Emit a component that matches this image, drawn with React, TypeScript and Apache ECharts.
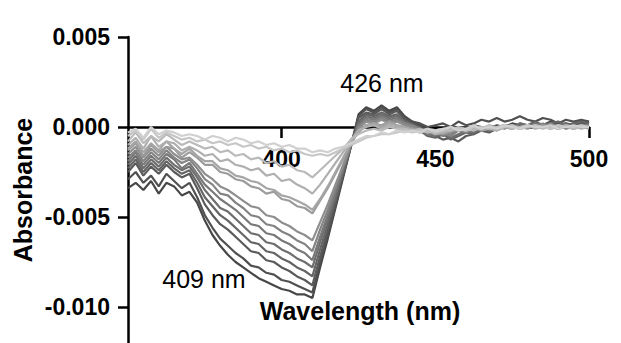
import React, { useEffect, useRef } from "react";
import * as echarts from "echarts";

// Wavelength grid (nm)
const WAVELENGTHS = [
  350, 352.5, 355, 357.5, 360, 362.5, 365, 367.5, 370, 372.5, 375, 377.5, 380, 382.5, 385, 387.5,
  390, 392.5, 395, 397.5, 400, 402.5, 405, 407.5, 410, 412.5, 415, 417.5, 420, 422.5, 425, 427.5,
  430, 432.5, 435, 437.5, 440, 442.5, 445, 447.5, 450, 452.5, 455, 457.5, 460, 462.5, 465, 467.5,
  470, 472.5, 475, 477.5, 480, 482.5, 485, 487.5, 490, 492.5, 495, 497.5, 500,
];

// Difference absorbance, in units of 1e-4, lightest -> darkest
const S1 = [-3, -1, -6, 0, -4, -2, -3, -5, -4, -5, -7, -5, -6, -8, -6, -7, -9, -8, -10, -9, -11, -10, -12, -12, -14, -13, -14, -12, -11, -9, -7, -5, -5, -3, -4, -2, -3, -2, -3, -1, -2, -1, 0, -2, -1, 1, -1, 0, -1, 1, 0, -1, 1, 0, 0, 1, -1, 0, 1, 0, 0];
const S2 = [-5, -2, -7, -1, -6, -3, -5, -7, -6, -8, -7, -9, -8, -10, -9, -11, -10, -12, -11, -13, -12, -14, -13, -15, -16, -15, -16, -14, -12, -10, -8, -6, -5, -4, -4, -3, -2, -3, -2, -1, -3, -2, 0, -1, -2, 0, -1, 1, -1, 0, 1, -1, 0, 1, 0, -1, 1, 0, 0, 1, 0];
const S3 = [-8, -3, -9, -5, -8, -4, -7, -10, -8, -10, -12, -11, -14, -13, -16, -15, -18, -17, -20, -19, -22, -21, -24, -25, -28, -24, -20, -16, -12, -7, -4, -2, -1, -2, 0, -1, -1, -2, -1, -3, -2, -1, -2, 0, -1, -2, 0, -1, 0, 1, -1, 0, 1, 0, -1, 0, 1, 0, -1, 0, 0];
const S4 = [-10, -6, -12, -5, -11, -8, -9, -13, -11, -13, -16, -15, -19, -18, -21, -22, -24, -23, -27, -26, -30, -29, -32, -34, -37, -32, -26, -20, -14, -7, -2, 0, 1, -1, 1, 0, -1, -2, -3, -2, -4, -3, -2, -1, -2, -1, 0, -1, -2, 0, -1, 0, 1, -1, 0, 0, -1, 1, 0, -1, 0];
const S5 = [-12, -8, -14, -9, -13, -8, -12, -15, -12, -16, -19, -19, -23, -24, -27, -28, -30, -31, -34, -35, -38, -39, -41, -43, -46, -40, -33, -25, -17, -9, -2, 1, 2, 0, 2, 1, 0, -1, -3, -2, -4, -3, -1, -2, -1, 0, -2, -1, 0, 1, 0, -1, 0, 1, 0, -1, 0, 1, 0, 0, -1];
const S6 = [-13, -9, -16, -10, -14, -11, -12, -17, -14, -17, -21, -21, -25, -26, -29, -30, -33, -34, -37, -36, -40, -41, -44, -45, -48, -41, -34, -26, -18, -9, -3, 1, 2, 1, 3, 1, 0, -2, -1, -3, -2, -4, -2, -1, -2, 0, -1, 0, -2, 0, 1, -1, 0, 0, 1, 0, -1, 1, 0, 1, 0];
const S7 = [-15, -11, -17, -12, -16, -11, -15, -18, -17, -21, -26, -29, -33, -35, -38, -41, -44, -45, -49, -50, -53, -55, -58, -60, -63, -53, -43, -32, -21, -10, -1, 3, 2, 4, 2, 3, 1, 0, -2, -3, -2, -4, -3, -1, -2, 0, -1, 1, 0, -1, 1, 0, -1, 1, 0, 2, 0, 1, -1, 0, 1];
const S8 = [-17, -13, -19, -14, -18, -13, -17, -20, -18, -23, -29, -32, -37, -38, -42, -45, -49, -50, -54, -55, -58, -60, -63, -65, -69, -57, -46, -34, -22, -10, 0, 4, 3, 5, 3, 4, 2, 1, -1, -3, -4, -3, -5, -2, -3, -1, -2, 0, -1, 1, 0, -1, 1, 0, 2, 0, 1, 0, -1, 1, 0];
const S9 = [-19, -14, -21, -16, -20, -15, -18, -23, -20, -26, -32, -36, -40, -43, -46, -50, -54, -55, -59, -60, -63, -65, -68, -70, -74, -61, -49, -36, -23, -10, 1, 5, 4, 6, 4, 5, 2, 0, -2, -4, -3, -5, -4, -2, -3, -1, 0, -2, -1, 0, 1, -1, 0, 2, 1, 0, 1, -1, 0, 1, 1];
const S10 = [-21, -16, -23, -18, -22, -17, -21, -24, -22, -28, -35, -40, -45, -47, -51, -55, -59, -60, -64, -65, -68, -70, -73, -75, -78, -64, -51, -38, -24, -10, 2, 6, 5, 7, 5, 6, 3, 1, -1, -4, -5, -3, -6, -4, -2, -3, -1, 0, -1, 1, 0, 2, 1, 0, 1, -1, 1, 2, 0, 1, 0];
const S11 = [-23, -18, -25, -20, -24, -19, -23, -26, -24, -31, -39, -44, -49, -52, -56, -60, -64, -65, -69, -70, -73, -75, -78, -80, -83, -68, -54, -40, -25, -11, 3, 7, 6, 8, 6, 7, 3, 1, -2, -5, -6, -4, -7, -5, -3, -4, -1, -2, 0, 1, -1, 2, 1, 3, 1, 2, 3, 1, 2, 3, 2];
const S12 = [-25, -20, -27, -22, -26, -21, -25, -28, -26, -34, -43, -49, -54, -57, -61, -65, -69, -70, -74, -75, -78, -80, -83, -85, -88, -72, -57, -42, -26, -11, 5, 8, 7, 10, 7, 9, 4, 2, 0, -3, -5, -7, -6, -8, -5, -4, -2, -3, -1, 0, -1, 1, 0, 2, 0, 1, -1, 0, 1, 2, 1];
const S13 = [-29, -25, -31, -27, -33, -26, -30, -34, -31, -39, -49, -56, -62, -66, -70, -73, -77, -78, -81, -82, -85, -86, -88, -90, -92, -75, -60, -44, -27, -11, 6, 10, 8, 11, 8, 10, 5, 3, 2, 0, 1, 2, 0, 3, 1, 2, 4, 3, 5, 3, 4, 6, 4, 3, 5, 4, 2, 4, 3, 4, 3];
const S14 = [-34, -31, -35, -30, -37, -31, -33, -38, -36, -42, -52, -60, -66, -71, -75, -78, -81, -84, -86, -88, -90, -91, -93, -93, -95, -78, -62, -45, -28, -11, 7, 11, 9, 12, 9, 11, 6, 3, 1, -1, -3, -2, -1, 0, -2, 1, 0, -1, 1, 0, 2, 1, 0, 2, 1, 3, 1, 2, 1, 2, 3];

const SERIES = [S1, S2, S3, S4, S5, S6, S7, S8, S9, S10, S11, S12, S13, S14];
const COLORS = [
  "#d0d0d0", "#c6c6c6", "#bababa", "#afafaf", "#a5a5a5", "#9b9b9b", "#8e8e8e",
  "#838383", "#787878", "#6e6e6e", "#646464", "#5a5a5a", "#505050", "#474747",
];

const X_TICKS = [400, 450, 500];
const Y_TICKS = [-100, -50, 0, 50]; // 1e-4 units: -0.010 .. 0.005
const Y_UNIT = 10000; // data stored in 1e-4 units

const FONT = "'Liberation Sans', Arial, Helvetica, sans-serif";

export default function App() {
  const ref = useRef<HTMLDivElement>(null);
  useEffect(() => {
    if (!ref.current) return;
    const chart = echarts.init(ref.current, undefined, { renderer: "svg" });
    const series = SERIES.map((vals, i) => ({
      type: "line",
      data: vals.map((v, j) => [WAVELENGTHS[j], v]),
      showSymbol: false,
      symbol: "none",
      lineStyle: { width: 2.2, color: COLORS[i] },
      z: 2 + (SERIES.length - i),
    })).reverse();
    chart.setOption({
      animation: false,
      backgroundColor: "#ffffff",
      grid: { left: 128, right: 32, top: 37, bottom: 0, containLabel: false },
      xAxis: {
        type: "value",
        min: 350,
        max: 500,
        position: "bottom",
        offset: -216,
        axisLine: { onZero: false, lineStyle: { color: "#000", width: 2.5 } },
        axisTick: { show: true, length: 11, lineStyle: { color: "#000", width: 2.5 }, customValues: X_TICKS },
        axisLabel: {
          customValues: X_TICKS,
          color: "#000",
          fontWeight: "bold",
          fontSize: 23,
          fontFamily: FONT,
          margin: 20,
        },
        splitLine: { show: false },
      },
      yAxis: {
        type: "value",
        min: -120,
        max: 50,
        axisLine: { show: true, onZero: false, lineStyle: { color: "#000", width: 2.5 } },
        axisTick: { show: true, length: 10, lineStyle: { color: "#000", width: 2.5 }, customValues: Y_TICKS },
        axisLabel: {
          customValues: Y_TICKS,
          color: "#000",
          fontWeight: "bold",
          fontSize: 23,
          fontFamily: FONT,
          margin: 18,
          formatter: (v: number) => (v / Y_UNIT).toFixed(3),
        },
        splitLine: { show: false },
      },
      graphic: [
        {
          type: "text",
          x: 23,
          y: 190,
          rotation: Math.PI / 2,
          style: {
            text: "Absorbance",
            fontSize: 25,
            fontWeight: "bold",
            fontFamily: FONT,
            fill: "#000",
            textAlign: "center",
            textVerticalAlign: "middle",
          },
        },
        {
          type: "text",
          x: 360,
          y: 311,
          style: {
            text: "Wavelength (nm)",
            fontSize: 25,
            fontWeight: "bold",
            fontFamily: FONT,
            fill: "#000",
            textAlign: "center",
            textVerticalAlign: "middle",
          },
        },
        {
          type: "text",
          x: 382,
          y: 83,
          style: {
            text: "426 nm",
            fontSize: 25,
            fontFamily: FONT,
            fill: "#000",
            textAlign: "center",
            textVerticalAlign: "middle",
          },
        },
        {
          type: "text",
          x: 204,
          y: 279,
          style: {
            text: "409 nm",
            fontSize: 25,
            fontFamily: FONT,
            fill: "#000",
            textAlign: "center",
            textVerticalAlign: "middle",
          },
        },
      ],
      series,
    });
    return () => chart.dispose();
  }, []);
  return (
    <div
      ref={ref}
      style={{ position: "fixed", left: 0, top: 0, width: 621, height: 343, background: "#fff" }}
    />
  );
}
